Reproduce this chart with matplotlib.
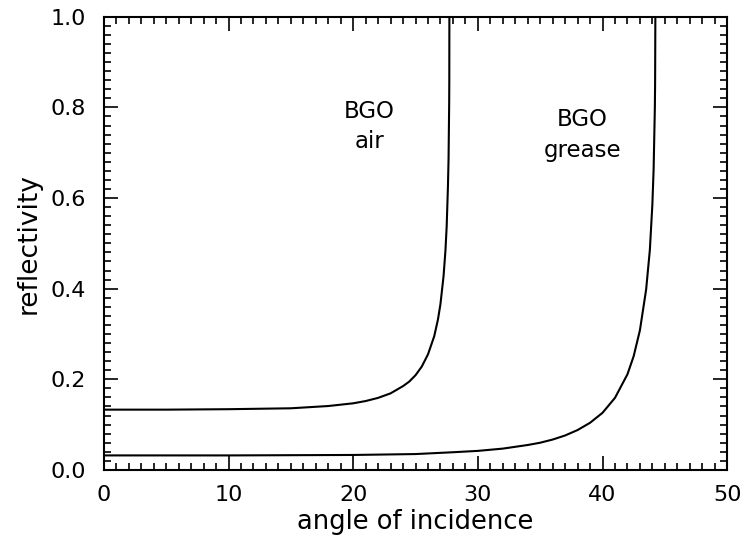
import numpy as np
import matplotlib
matplotlib.use("Agg")
import matplotlib.pyplot as plt
from matplotlib.ticker import MultipleLocator

# BGO -> air
air_angle = [0, 5, 10, 15, 18, 20, 21, 22, 23, 24, 24.5, 25, 25.5, 26, 26.5, 26.8,
             27, 27.25, 27.4, 27.5, 27.6, 27.65, 27.7, 27.71, 27.716, 27.716]
air_refl = [0.133, 0.133, 0.134, 0.136, 0.141, 0.147, 0.152, 0.159, 0.169, 0.185, 0.195,
            0.209, 0.228, 0.255, 0.295, 0.332, 0.366, 0.428, 0.484, 0.538, 0.625, 0.686,
            0.81, 0.861, 1.0, 1.05]

# BGO -> grease
grease_angle = [0, 10, 20, 25, 28, 30, 32, 34, 35, 36, 37, 38, 39, 40, 41, 42, 42.5,
                43, 43.5, 43.8, 44, 44.1, 44.2, 44.22, 44.24, 44.24]
grease_refl = [0.032, 0.032, 0.033, 0.035, 0.039, 0.042, 0.047, 0.055, 0.060, 0.067,
               0.076, 0.088, 0.104, 0.126, 0.159, 0.211, 0.251, 0.308, 0.398, 0.486,
               0.586, 0.663, 0.80, 0.854, 1.0, 1.05]

xticks = [0, 10, 20, 30, 40, 50]
yticks = [0.0, 0.2, 0.4, 0.6, 0.8, 1.0]

fig = plt.figure(figsize=(7.42, 5.42), dpi=100)
ax = fig.add_axes([0.140, 0.133, 0.840, 0.836])

ax.plot(air_angle, air_refl, color="black", lw=1.5, solid_joinstyle="round")
ax.plot(grease_angle, grease_refl, color="black", lw=1.5, solid_joinstyle="round")

ax.set_xlim(0, 50)
ax.set_ylim(0, 1.0)
ax.set_xticks(xticks)
ax.set_yticks(yticks)
ax.set_xticklabels([str(v) for v in xticks])
ax.set_yticklabels([f"{v:.1f}" for v in yticks])
ax.xaxis.set_minor_locator(MultipleLocator(1))
ax.yaxis.set_minor_locator(MultipleLocator(0.02))

ax.tick_params(which="both", direction="in", top=True, right=True, width=1.2, colors="black")
ax.tick_params(which="major", length=10, labelsize=16)
ax.tick_params(which="minor", length=5)
ax.tick_params(axis="x", which="major", pad=11)
ax.tick_params(axis="y", which="major", pad=13)
for s in ax.spines.values():
    s.set_linewidth(1.5)

ax.set_xlabel("angle of incidence", fontsize=18.5, labelpad=3)
ax.set_ylabel("reflectivity", fontsize=19, labelpad=6)

ax.text(21.3, 0.79, "BGO", fontsize=16.5, ha="center", va="center")
ax.text(21.3, 0.725, "air", fontsize=16.5, ha="center", va="center")
ax.text(38.4, 0.773, "BGO", fontsize=16.5, ha="center", va="center")
ax.text(38.4, 0.706, "grease", fontsize=16.5, ha="center", va="center")

fig.savefig("out.png", dpi=100)
